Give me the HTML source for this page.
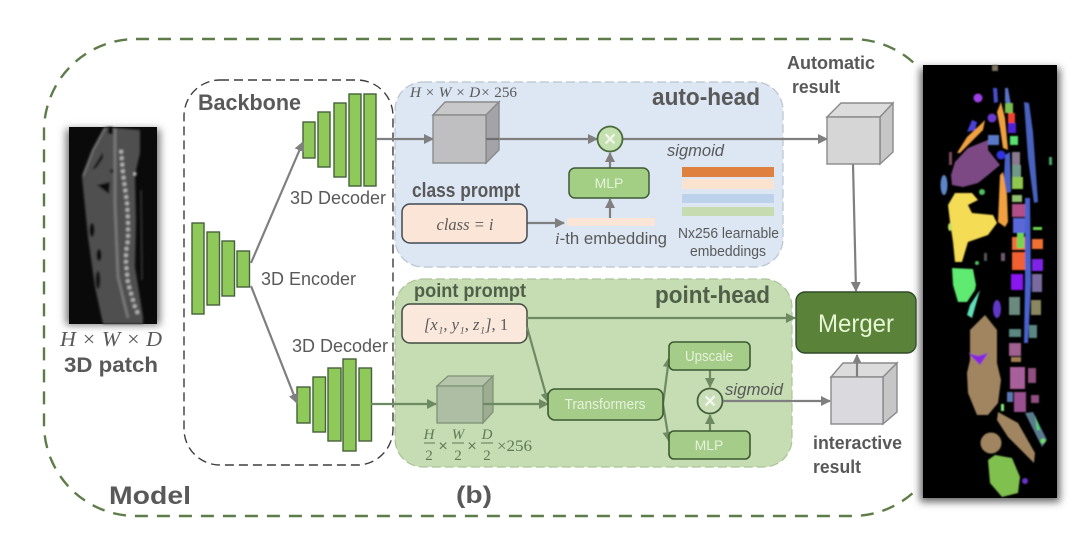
<!DOCTYPE html>
<html>
<head>
<meta charset="utf-8">
<style>
html,body{margin:0;padding:0;background:#fff;width:1080px;height:544px;overflow:hidden}
svg{display:block}
text{font-family:"Liberation Sans",sans-serif;fill:#595959}
.b{font-weight:bold}
.m{font-family:"Liberation Serif",serif;font-style:italic}
.w{fill:#e6f2dc}
</style>
</head>
<body>
<svg width="1080" height="544" viewBox="0 0 1080 544" xmlns="http://www.w3.org/2000/svg">
<defs>
<filter id="sh" x="-20%" y="-10%" width="140%" height="120%"><feGaussianBlur stdDeviation="4"/></filter>
<filter id="bl" x="-5%" y="-5%" width="110%" height="110%"><feGaussianBlur stdDeviation="0.9"/></filter>
<filter id="bl2" x="-5%" y="-5%" width="110%" height="110%"><feGaussianBlur stdDeviation="1.1"/></filter>
<marker id="a" viewBox="0 0 10 10" refX="9" refY="5" markerWidth="4.6" markerHeight="4.6" orient="auto"><path d="M0 0L10 5L0 10z" fill="#7f7f7f"/></marker>
<marker id="g" viewBox="0 0 10 10" refX="9" refY="5" markerWidth="4.6" markerHeight="4.6" orient="auto"><path d="M0 0L10 5L0 10z" fill="#6e8a62"/></marker>
</defs>

<rect width="1080" height="544" fill="#fff"/>

<!-- Outer model frame -->
<rect x="44" y="39" width="900" height="477" rx="92" fill="none" stroke="#5e7c4a" stroke-width="2.4" stroke-dasharray="13 9"/>
<rect x="918" y="60" width="150" height="445" fill="#fff"/>

<!-- CT patch -->
<rect x="66" y="129" width="94" height="196" fill="#777" filter="url(#sh)"/>
<rect x="69" y="127" width="88" height="197" fill="#0a0a0a"/>
<g filter="url(#bl2)">
<path d="M105 127L140 130L140 153L135 175L136 220L135 267L143 317L143 324L103 324L95 287L88 237L82 177L93 150Z" fill="#505050"/>
<path d="M105 128L93 150L83 176" fill="none" stroke="#777" stroke-width="2"/>
<path d="M92 170L103 152L103 158L96 168Z" fill="#111"/>
<path d="M97 185L110 182L109 194Z" fill="#111"/>
<ellipse cx="92" cy="230" rx="2.5" ry="7" fill="#111"/>
<ellipse cx="99" cy="255" rx="2.5" ry="6" fill="#111"/>
<ellipse cx="98" cy="280" rx="2.5" ry="9" fill="#151515"/>
<circle cx="112" cy="171" r="2" fill="#222"/>
<rect x="108" y="127" width="5" height="7" fill="#111"/>
<path d="M115 128L115 203L118 277L128 318" fill="none" stroke="#7a7a7a" stroke-width="2.6"/>
<path d="M121 150L123 173L127 203L128 220L128 240L126 252L126 263L128 283L135 307L139 316" fill="none" stroke="#b8b8b8" stroke-width="3.6" stroke-dasharray="3.5 3"/>
<circle cx="135" cy="174" r="1.6" fill="#ccc"/>
<path d="M141 190L142 280" stroke="#3a3a3a" stroke-width="1.5"/>
</g>
<text x="111" y="346" text-anchor="middle" class="m" font-size="21" textLength="102" lengthAdjust="spacingAndGlyphs">H × W × D</text>
<text x="111" y="372" text-anchor="middle" class="b" font-size="21" textLength="94" lengthAdjust="spacingAndGlyphs">3D patch</text>

<!-- Backbone -->
<rect x="184" y="80" width="209" height="385" rx="36" fill="none" stroke="#3d3d3d" stroke-width="1.4" stroke-dasharray="9 5"/>
<text x="198" y="110" class="b" font-size="22" textLength="103" lengthAdjust="spacingAndGlyphs">Backbone</text>

<!-- Heads backgrounds -->
<rect x="395" y="82" width="388" height="185" rx="28" fill="#dde7f3" stroke="#b9c4d0" stroke-width="1.2" stroke-dasharray="9 4"/>
<rect x="395" y="279" width="397" height="188" rx="28" fill="#c6dcb3" stroke="#a9c497" stroke-width="1.2" stroke-dasharray="9 4"/>

<!-- Encoder/decoders -->
<g fill="#8fc95a" stroke="#45603a" stroke-width="1.4">
<rect x="192" y="223" width="12" height="91"/>
<rect x="207" y="232" width="12.5" height="73"/>
<rect x="222" y="241" width="12.5" height="55"/>
<rect x="237" y="251" width="12.5" height="36"/>
<rect x="303" y="122" width="12" height="36"/>
<rect x="318" y="112" width="12" height="55"/>
<rect x="334" y="103" width="12" height="74"/>
<rect x="349" y="94" width="12" height="92"/>
<rect x="364" y="94" width="12" height="92"/>
<rect x="297" y="387" width="13" height="36"/>
<rect x="313" y="377" width="12.5" height="55"/>
<rect x="328" y="368" width="13" height="73"/>
<rect x="343" y="359" width="13" height="92"/>
<rect x="359" y="368" width="12.5" height="73"/>
</g>
<text x="290" y="204" font-size="18" textLength="96" lengthAdjust="spacingAndGlyphs">3D Decoder</text>
<text x="261" y="285" font-size="18" textLength="95" lengthAdjust="spacingAndGlyphs">3D Encoder</text>
<text x="292" y="352" font-size="18" textLength="96" lengthAdjust="spacingAndGlyphs">3D Decoder</text>

<!-- gray arrows -->
<g fill="none" stroke="#7f7f7f" stroke-width="2.2" marker-end="url(#a)">
<path d="M251 263L303 142"/>
<path d="M251 286L297 403"/>
<path d="M376 139L433 139"/>
<path d="M486 139L597 139"/>
<path d="M623 139L827 139"/>
<path d="M610 168L610 153"/>
<path d="M610 218L610 199"/>
<path d="M527 223L564 223"/>
<path d="M853 164L856 291"/>
<path d="M857 377L857 355"/>
</g>

<!-- auto-head -->
<text x="652" y="105" class="b" font-size="24" textLength="108" lengthAdjust="spacingAndGlyphs">auto-head</text>
<text x="410" y="97" class="m" font-size="14.5" textLength="107" lengthAdjust="spacingAndGlyphs">H × W × D× <tspan font-style="normal">256</tspan></text>
<g stroke="#8a8a8a" stroke-width="1.4">
<path d="M433 115L445 102L499 102L486 115Z" fill="#c8c8ca"/>
<path d="M486 115L499 102L499 150L486 163Z" fill="#a4a4a8"/>
<rect x="433" y="115" width="53" height="48" fill="#bfbfc2"/>
</g>
<path d="M486 139L499 139" stroke="#6f6f6f" stroke-width="2.2"/>
<circle cx="610" cy="139" r="12.5" fill="#c5e0b0" stroke="#486b3a" stroke-width="1.8"/>
<text x="610" y="146" text-anchor="middle" class="b" font-size="21" style="fill:#eef6e6">×</text>
<text x="667" y="156" font-size="17" font-style="italic" textLength="57" lengthAdjust="spacingAndGlyphs">sigmoid</text>
<rect x="569" y="168" width="80" height="30" rx="6" fill="#a3cf85" stroke="#3f5a36" stroke-width="1.5"/>
<text x="609" y="188" text-anchor="middle" font-size="14" class="w">MLP</text>
<text x="412" y="197" class="b" font-size="20" textLength="108" lengthAdjust="spacingAndGlyphs">class prompt</text>
<rect x="402" y="204" width="125" height="39" rx="8" fill="#fbe5d6" stroke="#3f4a55" stroke-width="1.5"/>
<text x="465" y="230" text-anchor="middle" class="m" font-size="16.5">class = i</text>
<rect x="567" y="218" width="88" height="8" fill="#fbe5d6"/>
<text x="555" y="244" font-size="17" textLength="112" lengthAdjust="spacingAndGlyphs"><tspan class="m">i</tspan>-th embedding</text>
<rect x="682" y="167" width="92" height="10" fill="#e0803e"/>
<rect x="682" y="179" width="92" height="10" fill="#fbe3d0"/>
<rect x="682" y="194" width="92" height="9" fill="#bcd2ea"/>
<rect x="682" y="207" width="92" height="9" fill="#c6dcb0"/>
<text x="678" y="238" font-size="14.5" textLength="101" lengthAdjust="spacingAndGlyphs">Nx256 learnable</text>
<text x="690" y="256" font-size="14.5" textLength="76" lengthAdjust="spacingAndGlyphs">embeddings</text>

<!-- automatic result -->
<text x="787" y="69" class="b" font-size="18" textLength="88" lengthAdjust="spacingAndGlyphs">Automatic</text>
<text x="792" y="93" class="b" font-size="18" textLength="48" lengthAdjust="spacingAndGlyphs">result</text>
<g stroke="#8a8a8a" stroke-width="1.4">
<path d="M827 117L841 103L893 103L880 117Z" fill="#dcdcdc"/>
<path d="M880 117L893 103L893 152L880 164Z" fill="#c6c6c6"/>
<rect x="827" y="117" width="53" height="47" fill="#d6d6d6"/>
</g>

<!-- point-head -->
<text x="655" y="303" class="b" font-size="24" textLength="115" lengthAdjust="spacingAndGlyphs" style="fill:#4f5f48">point-head</text>
<text x="414" y="297" class="b" font-size="19" textLength="112" lengthAdjust="spacingAndGlyphs" style="fill:#4f5f48">point prompt</text>
<rect x="402" y="304" width="125" height="39" rx="8" fill="#fbe8dc" stroke="#3f4a40" stroke-width="1.5"/>
<text x="466" y="330" text-anchor="middle" class="m" font-size="16.5">[x₁, y₁, z₁], <tspan font-style="normal">1</tspan></text>
<g stroke="#7f9375" stroke-width="1.3">
<path d="M437 386L448 376L493 376L483 386Z" fill="#b5c4ab"/>
<path d="M483 386L493 376L493 412L483 423Z" fill="#9cad92"/>
<rect x="437" y="386" width="46" height="37" fill="#aebea4"/>
</g>
<g fill="none" stroke="#6e8a62" stroke-width="2.2" marker-end="url(#g)">
<path d="M371 404L436 404"/>
<path d="M483 404L548 404"/>
<path d="M527 318L795 318"/>
<path d="M527 327L548 402"/>
<path d="M663 404L669 358"/>
<path d="M663 404L669 441"/>
<path d="M710 370L710 387"/>
<path d="M710 431L710 415"/>
</g>
<rect x="548" y="389" width="115" height="31" rx="7" fill="#a5cc88" stroke="#3c5a32" stroke-width="1.6"/>
<text x="605" y="409" text-anchor="middle" font-size="14.5" class="w" textLength="81" lengthAdjust="spacingAndGlyphs">Transformers</text>
<rect x="669" y="342" width="81" height="28" rx="5" fill="#a5cc88" stroke="#3c5a32" stroke-width="1.6"/>
<text x="709" y="361" text-anchor="middle" font-size="14.5" class="w" textLength="48" lengthAdjust="spacingAndGlyphs">Upscale</text>
<rect x="669" y="431" width="81" height="28" rx="5" fill="#a5cc88" stroke="#3c5a32" stroke-width="1.6"/>
<text x="709" y="450" text-anchor="middle" font-size="14" class="w">MLP</text>
<circle cx="710" cy="401" r="12.5" fill="#c9deb8" stroke="#44603a" stroke-width="1.8"/>
<text x="710" y="408" text-anchor="middle" class="b" font-size="21" style="fill:#f2f7ec">×</text>
<text x="725" y="395" font-size="17" font-style="italic" textLength="58" lengthAdjust="spacingAndGlyphs">sigmoid</text>
<path d="M723 401L830 401" fill="none" stroke="#7f7f7f" stroke-width="2.2" marker-end="url(#a)"/>
<!-- fractions -->
<g font-size="15">
<text x="429" y="439" class="m" style="fill:#5f7a55" text-anchor="middle">H</text>
<text x="429" y="460" style="fill:#5f7a55;font-family:'Liberation Serif',serif" text-anchor="middle">2</text>
<text x="458" y="439" class="m" style="fill:#5f7a55" text-anchor="middle">W</text>
<text x="458" y="460" style="fill:#5f7a55;font-family:'Liberation Serif',serif" text-anchor="middle">2</text>
<text x="487" y="439" class="m" style="fill:#5f7a55" text-anchor="middle">D</text>
<text x="487" y="460" style="fill:#5f7a55;font-family:'Liberation Serif',serif" text-anchor="middle">2</text>
</g>
<path d="M424 443H435M452 443H464M481 443H493" stroke="#5f7a55" stroke-width="1"/>
<text x="443" y="451" text-anchor="middle" font-size="16" style="fill:#5f7a55">×</text>
<text x="472" y="451" text-anchor="middle" font-size="16" style="fill:#5f7a55">×</text>
<text x="497" y="451" font-size="16" textLength="35" lengthAdjust="spacingAndGlyphs" style="fill:#5f7a55;font-family:'Liberation Serif',serif">×256</text>

<!-- Merger -->
<rect x="796" y="292" width="120" height="61" rx="9" fill="#5a8238" stroke="#2f4a28" stroke-width="1.4"/>
<text x="856" y="332" text-anchor="middle" font-size="25" style="fill:#e6f5d4" textLength="76" lengthAdjust="spacingAndGlyphs">Merger</text>

<!-- interactive cube -->
<g stroke="#8a8a8a" stroke-width="1.4">
<path d="M831 377L843 363L897 363L883 377Z" fill="#dcdcdc"/>
<path d="M883 377L897 363L897 412L883 424Z" fill="#c6c6c6"/>
<rect x="831" y="377" width="52" height="47" fill="#dadade"/>
</g>
<path d="M857 377L857 358" stroke="#7f7f7f" stroke-width="2.2"/>
<text x="813" y="449" class="b" font-size="18" textLength="89" lengthAdjust="spacingAndGlyphs">interactive</text>
<text x="813" y="473" class="b" font-size="18" textLength="48" lengthAdjust="spacingAndGlyphs">result</text>

<text x="109" y="504" class="b" font-size="25" textLength="82" lengthAdjust="spacingAndGlyphs">Model</text>
<text x="456" y="503" class="b" font-size="24" textLength="36" lengthAdjust="spacingAndGlyphs">(b)</text>

<!-- Segmentation image -->
<rect x="920" y="68" width="140" height="434" fill="#666" filter="url(#sh)"/>
<rect x="923" y="65" width="134" height="433" fill="#000"/>
<g filter="url(#bl)">
<path d="M951 175L955 162L968 148L988 140L988 150L1000 165L988 175L978 183L963 187L952 185Z" fill="#7c4a85"/>
<path d="M948 205L955 193L972 193L978 200L968 205L972 213L993 215L997 223L988 235L968 242L962 262L955 262L953 242L950 222Z" fill="#f5dc55"/>
<path d="M952 268L973 269L976 285L975 290L967 302L958 302L953 285Z" fill="#5eea72"/>
<path d="M980 290L972 318L967 315L970 305Z" fill="#5fe0b8"/>
<path d="M957 153L967 137L980 125L985 120L983 130L970 143L960 153Z" fill="#f0a040"/>
<path d="M967 132L972 120L977 122L975 130Z" fill="#4a40d8"/>
<circle cx="978" cy="98" r="4.5" fill="#a040e8"/>
<circle cx="992" cy="118" r="4.5" fill="#6a3ad0"/>
<rect x="949" y="152" width="3" height="13" fill="#7a4a60"/>
<ellipse cx="944" cy="185" rx="3.5" ry="10" fill="#5b86c8"/>
<path d="M997 112L1001 102L1005 118L1008 150L1003 148L1000 128Z" fill="#f0a040"/>
<path d="M1000 175L1003 172L1007 195L1008 222L1005 227L998 222L999 198Z" fill="#f0a040"/>
<path d="M1005 155L1010 152L1011 192L1007 193L1004 178Z" fill="#4a62c8"/>
<path d="M1005 88L1008 88L1011 105L1005 102Z" fill="#5a72c8"/>
<path d="M993 88L997 88L998 102L994 103Z" fill="#4a50d0"/>
<path d="M1024 102L1029 103L1033 132L1038 202L1034 203L1028 158Z" fill="#4a62c0"/>
<path d="M1025 198L1030 198L1031 285L1028 343L1024 343L1025 280Z" fill="#4a62d0"/>
<rect x="988" y="135" width="11" height="10" fill="#5a78c8"/>
<circle cx="1001" cy="155" r="4.5" fill="#3030e0"/>
<rect x="1005" y="103" width="8" height="10" fill="#78c050"/>
<rect x="1008" y="113" width="7" height="10" fill="#f04030"/>
<rect x="1008" y="123" width="8" height="10" fill="#5020d8"/>
<rect x="1010" y="136" width="8" height="9" fill="#58e070"/>
<rect x="1012" y="152" width="8" height="13" fill="#8a7a90"/>
<rect x="1012" y="165" width="9" height="12" fill="#709a88"/>
<rect x="1012" y="177" width="11" height="12" fill="#90c850"/>
<rect x="1012" y="195" width="10" height="7" fill="#90c070"/>
<rect x="1012" y="204" width="13" height="13" fill="#b05088"/>
<rect x="1013" y="218" width="12" height="15" fill="#5a68d8"/>
<rect x="1012" y="237" width="13" height="13" fill="#f07040"/>
<rect x="1017" y="233" width="7" height="15" fill="#70d850"/>
<rect x="1032" y="239" width="11" height="10" fill="#f07030"/>
<rect x="1012" y="252" width="13" height="18" fill="#f06030"/>
<rect x="1032" y="259" width="11" height="12" fill="#8020e8"/>
<rect x="1011" y="274" width="12" height="16" fill="#8a18f0"/>
<rect x="1032" y="274" width="10" height="18" fill="#7a6aa0"/>
<rect x="1009" y="297" width="11" height="18" fill="#6a8a80"/>
<rect x="1031" y="300" width="10" height="15" fill="#8a8860"/>
<rect x="1009" y="329" width="12" height="8" fill="#5a8880"/>
<rect x="1029" y="325" width="8" height="13" fill="#5a8880"/>
<rect x="1009" y="343" width="12" height="13" fill="#a06090"/>
<rect x="1011" y="357" width="10" height="5" fill="#a08050"/>
<rect x="1010" y="367" width="15" height="22" fill="#a8609a"/>
<rect x="1014" y="392" width="12" height="20" fill="#9a5090"/>
<rect x="1007" y="392" width="6" height="10" fill="#5878b0"/>
<rect x="1031" y="395" width="8" height="8" fill="#905080"/>
<rect x="1028" y="368" width="8" height="15" fill="#905080"/>
<path d="M1025 413L1033 412L1047 440L1042 447Z" fill="#5a7a90"/>
<path d="M1035 415L1040 430L1037 430Z" fill="#50e060"/>
<circle cx="1043" cy="441" r="2.5" fill="#70e060"/>
<rect x="1001" y="404" width="3" height="7" fill="#80f080"/>
<ellipse cx="997" cy="309" rx="4" ry="9" fill="#6038c8"/>
<path d="M970 330L985 315L997 330L997 363L1001 380L998 403L988 415L977 415L968 393L967 373L970 360Z" fill="#a08560"/>
<path d="M968 353L978 356L988 353L980 365Z" fill="#8a20e0"/>
<path d="M998 412L1018 423L1035 453L1034 463L1008 437L997 420Z" fill="#a08560"/>
<circle cx="991" cy="443" r="10.5" fill="#a08560"/>
<path d="M988 460L995 455L1012 458L1020 477L1018 493L1002 497L990 483Z" fill="#80c050"/>
<circle cx="1025" cy="481" r="3" fill="#6a30c8"/>
<rect x="1049" y="157" width="3" height="8" fill="#50a870"/>
<circle cx="982" cy="192" r="3" fill="#50c060"/>
<ellipse cx="950" cy="227" rx="2" ry="4" fill="#c0e060"/>
<circle cx="977" cy="263" r="2" fill="#50c060"/>
<rect x="984" y="253" width="3" height="8" fill="#555"/>
<rect x="1001" y="253" width="4" height="8" fill="#705a70"/>
<rect x="1033" y="227" width="9" height="3" fill="#70d850"/>
<rect x="992" y="65" width="6" height="6" fill="#7a7060"/>
</g>
</svg>
</body>
</html>
